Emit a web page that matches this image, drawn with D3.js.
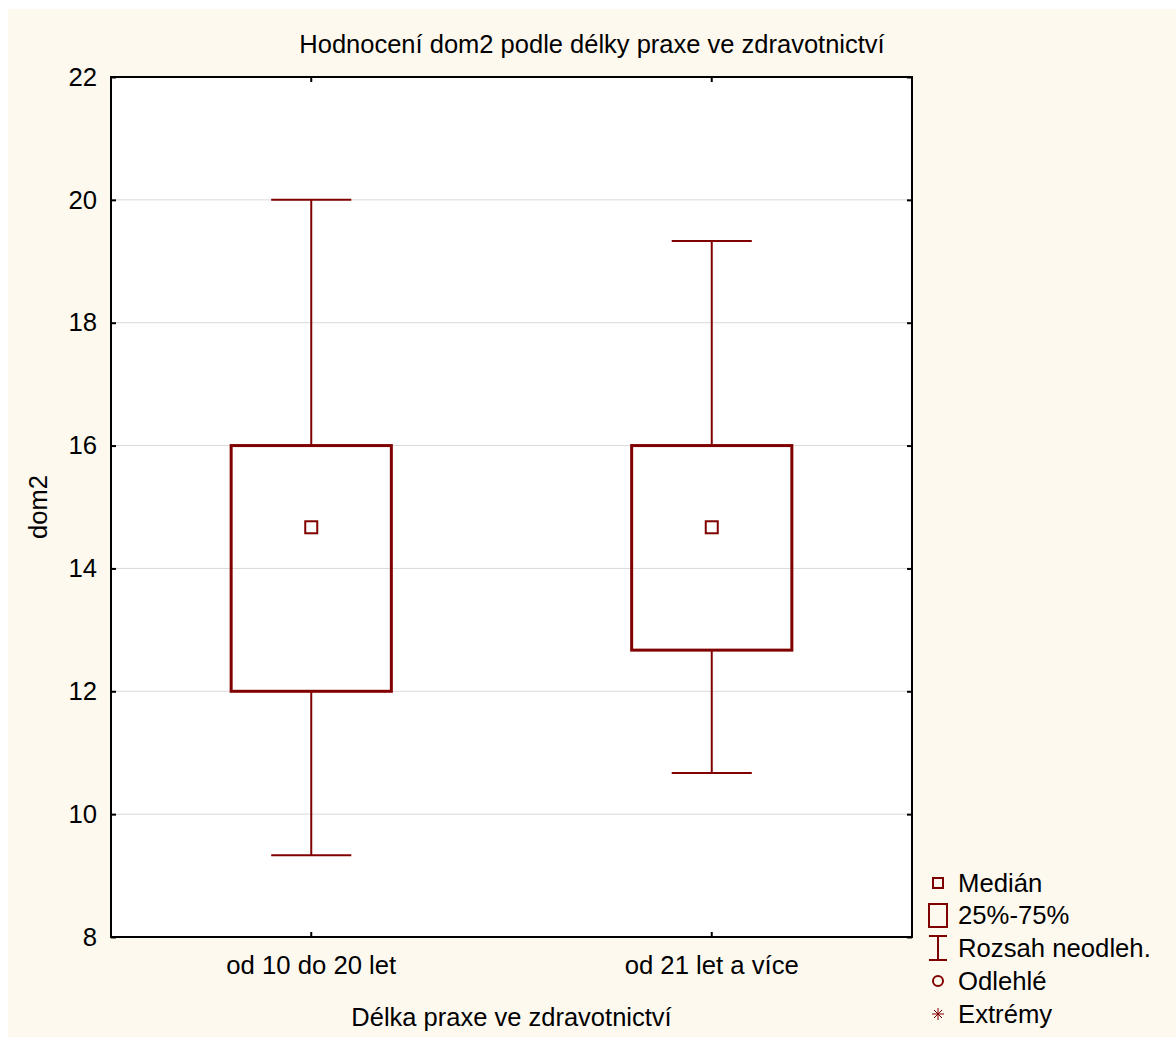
<!DOCTYPE html>
<html lang="en">
<head>
    <meta charset="UTF-8">
    <title>dom2</title>
    <style>
        body { margin: 0; background: #fff; }
        text { font-family: Arial, "Liberation Sans", sans-serif; fill: #000; }
    </style>
</head>
<body>
<script src="https://d3js.org/d3.v7.min.js"></script>
<script>
    // data
    const categories = ['od 10 do 20 let', 'od 21 let a více'];
    const medians = [14.67, 14.67];
    const q1 = [12, 12.67];
    const q3 = [16, 16];
    const whiskerLow = [9.33, 10.67];
    const whiskerHigh = [20, 19.33];
    const yTicks = [8, 10, 12, 14, 16, 18, 20, 22];
    const legendLabels = ['Medián', '25%-75%', 'Rozsah neodleh.', 'Odlehlé', 'Extrémy'];

    const width = 1176;
    const height = 1037;
    const red = '#800000';
    const fs = 25.7;
    const margin = {left: 111, top: 77, right: 912, bottom: 937};

    const svg = d3.select('body').append('svg').attr('width', width).attr('height', height);

    svg.append('rect').attr('x', 8).attr('y', 9).attr('width', width - 8).attr('height', height - 9)
        .attr('fill', '#fef9ef');

    const x = d3.scaleBand().domain(categories).range([margin.left, margin.right]);
    const y = d3.scaleLinear().domain([8, 22]).range([margin.bottom, margin.top]);

    // plot area
    svg.append('rect').attr('x', margin.left).attr('y', margin.top)
        .attr('width', margin.right - margin.left).attr('height', margin.bottom - margin.top)
        .attr('fill', '#fff');

    // grid
    svg.append('g').selectAll('line').data(yTicks.slice(1, -1)).enter().append('line')
        .attr('x1', margin.left).attr('x2', margin.right)
        .attr('y1', d => y(d)).attr('y2', d => y(d))
        .attr('stroke', '#d9d9d9').attr('stroke-width', 1);

    // axes, ticks pointing inward
    const axLeft = svg.append('g').attr('transform', `translate(${margin.left},0)`)
        .call(d3.axisLeft(y).tickValues(yTicks).tickSize(-5).tickPadding(14));
    const axRight = svg.append('g').attr('transform', `translate(${margin.right},0)`)
        .call(d3.axisRight(y).tickValues(yTicks).tickSize(-5).tickFormat(''));
    const axBottom = svg.append('g').attr('transform', `translate(0,${margin.bottom})`)
        .call(d3.axisBottom(x).tickSize(-5).tickPadding(19));
    const axTop = svg.append('g').attr('transform', `translate(0,${margin.top})`)
        .call(d3.axisTop(x).tickSize(-5).tickFormat(''));
    [axLeft, axRight, axBottom, axTop].forEach(a => {
        a.select('.domain').remove();
        a.selectAll('.tick line').attr('stroke', '#000').attr('stroke-width', 2);
        a.selectAll('text').attr('font-size', fs).attr('fill', '#000')
            .style('font-family', 'Arial, "Liberation Sans", sans-serif');
    });
    svg.append('rect').attr('x', margin.left).attr('y', margin.top)
        .attr('width', margin.right - margin.left).attr('height', margin.bottom - margin.top)
        .attr('fill', 'none').attr('stroke', '#000').attr('stroke-width', 2);

    // boxes
    const cx = d => x(d) + x.bandwidth() / 2;
    const bw = x.bandwidth() * 0.4;
    const cap = x.bandwidth() * 0.2;
    const g = svg.append('g');
    categories.forEach((c, i) => {
        g.append('line').attr('x1', cx(c)).attr('x2', cx(c))
            .attr('y1', y(whiskerHigh[i])).attr('y2', y(q3[i]))
            .attr('stroke', red).attr('stroke-width', 2);
        g.append('line').attr('x1', cx(c)).attr('x2', cx(c))
            .attr('y1', y(q1[i])).attr('y2', y(whiskerLow[i]))
            .attr('stroke', red).attr('stroke-width', 2);
        [whiskerHigh[i], whiskerLow[i]].forEach(v => {
            g.append('line').attr('x1', cx(c) - cap / 2).attr('x2', cx(c) + cap / 2)
                .attr('y1', y(v)).attr('y2', y(v))
                .attr('stroke', red).attr('stroke-width', 2);
        });
        g.append('rect').attr('x', cx(c) - bw / 2).attr('y', y(q3[i]))
            .attr('width', bw).attr('height', y(q1[i]) - y(q3[i]))
            .attr('fill', 'none').attr('stroke', red).attr('stroke-width', 3);
        g.append('rect').attr('x', cx(c) - 6).attr('y', y(medians[i]) - 6)
            .attr('width', 12).attr('height', 12)
            .attr('fill', 'none').attr('stroke', red).attr('stroke-width', 2);
    });

    // titles
    svg.append('text').attr('x', (8 + width) / 2).attr('y', 53)
        .attr('text-anchor', 'middle').attr('font-size', 25.5)
        .text('Hodnocení dom2 podle délky praxe ve zdravotnictví');
    svg.append('text').attr('x', (margin.left + margin.right) / 2).attr('y', 1026)
        .attr('text-anchor', 'middle').attr('font-size', 25.5)
        .text('Délka praxe ve zdravotnictví');
    svg.append('text').attr('transform', `translate(47,${(margin.top + margin.bottom) / 2}) rotate(-90)`)
        .attr('text-anchor', 'middle').attr('font-size', 25.5).text('dom2');

    // legend
    const legend = svg.append('g').attr('transform', 'translate(938,0)');
    const rowY = [883, 915, 948, 981, 1014];
    legend.selectAll('text').data(legendLabels).enter().append('text')
        .attr('x', 20).attr('y', (d, i) => rowY[i]).attr('dy', '0.35em')
        .attr('font-size', fs).text(d => d);
    legend.append('rect').attr('x', -5).attr('y', rowY[0] - 5).attr('width', 10).attr('height', 10)
        .attr('fill', 'none').attr('stroke', red).attr('stroke-width', 2);
    legend.append('rect').attr('x', -9).attr('y', rowY[1] - 11).attr('width', 18).attr('height', 23)
        .attr('fill', 'none').attr('stroke', red).attr('stroke-width', 2);
    legend.append('path').attr('d', `M-9,${rowY[2] - 12}H9M0,${rowY[2] - 12}V${rowY[2] + 12}M-9,${rowY[2] + 12}H9`)
        .attr('fill', 'none').attr('stroke', red).attr('stroke-width', 2);
    legend.append('circle').attr('cx', 0).attr('cy', rowY[3]).attr('r', 5)
        .attr('fill', 'none').attr('stroke', red).attr('stroke-width', 2);
    legend.append('path').attr('d', `M-6,${rowY[4]}H6M0,${rowY[4] - 6}V${rowY[4] + 6}M-4,${rowY[4] - 4}L4,${rowY[4] + 4}M-4,${rowY[4] + 4}L4,${rowY[4] - 4}`)
        .attr('fill', 'none').attr('stroke', red).attr('stroke-width', 1);
</script>
</body>
</html>
